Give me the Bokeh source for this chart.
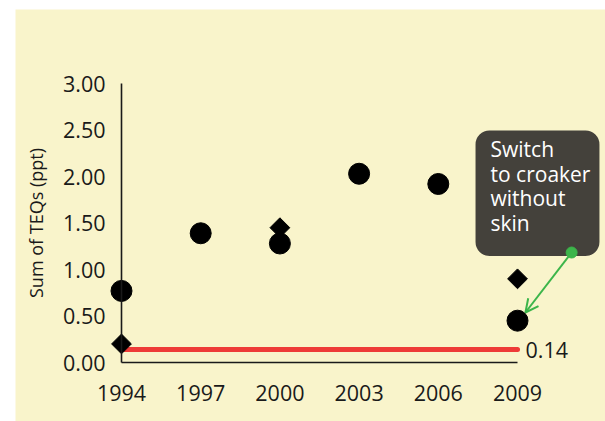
from bokeh.plotting import figure
from bokeh.models import FixedTicker, NumeralTickFormatter, Label, Arrow, OpenHead, Range1d
from bokeh.embed import file_html
from bokeh.resources import INLINE

# ---- data ----
years_circle = [1994, 1997, 2000, 2003, 2006, 2009]
teq_circle = [0.77, 1.39, 1.28, 2.03, 1.92, 0.45]
years_diamond = [1994, 2000, 2009]
teq_diamond = [0.20, 1.45, 0.90]
x_ticks = [1994, 1997, 2000, 2003, 2006, 2009]
y_ticks = [0.0, 0.5, 1.0, 1.5, 2.0, 2.5, 3.0]
threshold = 0.14
threshold_text = "0.14"
y_title = "Sum of TEQs (ppt)"
note_text = "Switch\nto croaker\nwithout\nskin"

# annotation placement (data coords)
note_pos = (2007.41, 2.495)
arrow_start = (2011.05, 1.183)
arrow_end = (2009.30, 0.538)

TICK_FONT = "Open Sans"
TEXT_FONT = "Open Sans"
BG = "#f9f4cb"
INK = "#1a1a1a"
GREEN = "#3cb54a"
RED = "#ee3b37"

p = figure(width=605, height=421,
           x_range=Range1d(1989.985, 2012.333), y_range=Range1d(-0.634, 3.796),
           output_backend="svg", toolbar_location=None,
           min_border_left=15, min_border_top=9, min_border_right=0, min_border_bottom=0,
           background_fill_color=BG, border_fill_color="white", outline_line_color=None)
p.grid.visible = False

for ax in (p.xaxis[0], p.yaxis[0]):
    ax.major_tick_line_color = None
    ax.minor_tick_line_color = None
    ax.axis_line_color = INK
    ax.axis_line_width = 1.6
    ax.major_label_text_font = TICK_FONT
    ax.major_label_text_font_size = "21.5px"
    ax.major_label_text_color = INK

p.xaxis.fixed_location = 0
p.xaxis.bounds = (x_ticks[0], x_ticks[-1])
p.xaxis.ticker = FixedTicker(ticks=x_ticks)
p.xaxis.major_label_standoff = 16

p.yaxis.fixed_location = x_ticks[0]
p.yaxis.bounds = (0, y_ticks[-1])
p.yaxis.ticker = FixedTicker(ticks=y_ticks)
p.yaxis.formatter = NumeralTickFormatter(format="0.00")
p.yaxis.major_label_standoff = 10
p.yaxis.axis_label = y_title
p.yaxis.axis_label_text_font = TEXT_FONT
p.yaxis.axis_label_text_font_size = "18px"
p.yaxis.axis_label_text_font_style = "normal"
p.yaxis.axis_label_text_color = INK
p.yaxis.axis_label_standoff = 12

# threshold line
p.line([x_ticks[0], x_ticks[-1]], [threshold, threshold], line_color=RED, line_width=5, line_cap="round")
p.add_layout(Label(x=x_ticks[-1], y=threshold, text=threshold_text, x_offset=8,
                   text_baseline="middle", text_align="left", text_font=TICK_FONT,
                   text_font_size="21.5px", text_color=INK))

# markers
p.scatter(years_diamond, teq_diamond, marker="square", angle=0.7853981634, size=14,
          fill_color="black", line_color="black")
p.scatter(years_circle, teq_circle, marker="circle", size=21, fill_color="black", line_color="black")

# note box
p.add_layout(Label(x=note_pos[0], y=note_pos[1], text=note_text, anchor="top_left",
                   text_align="left", text_baseline="top",
                   text_font=TEXT_FONT, text_font_size="21px", text_color="white",
                   text_line_height=0.875,
                   background_fill_color="#44413b", border_radius=14,
                   padding=(15, 9, 5, 19)))

p.add_layout(Arrow(x_start=arrow_start[0], y_start=arrow_start[1],
                   x_end=arrow_end[0], y_end=arrow_end[1],
                   line_color=GREEN, line_width=2,
                   end=OpenHead(size=13, line_color=GREEN, line_width=2)))
dot = p.scatter([arrow_start[0]], [arrow_start[1]], size=11, fill_color=GREEN, line_color=GREEN)
dot.level = "overlay"

open("out.html", "w").write(file_html(p, INLINE))
